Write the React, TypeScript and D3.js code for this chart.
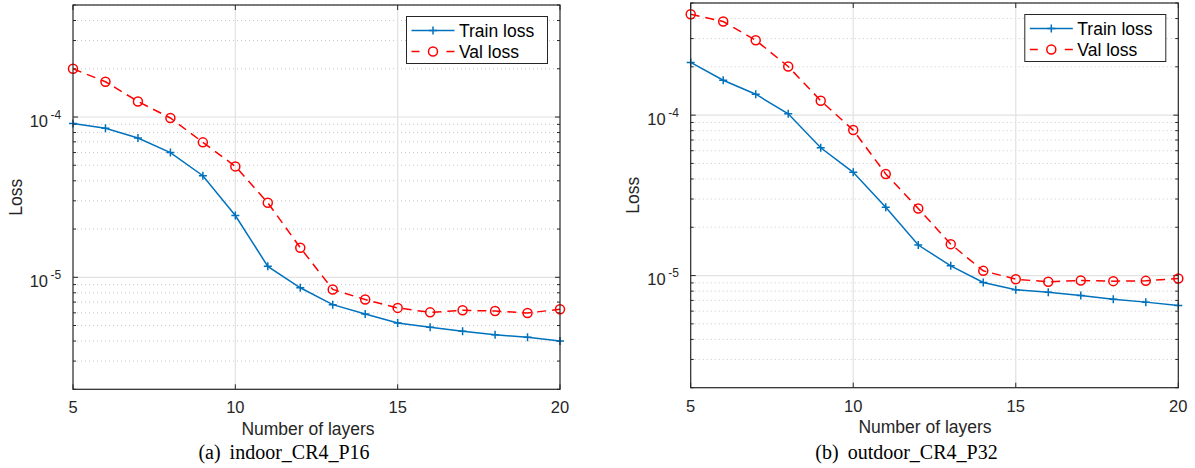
import React from 'react'
import * as d3 from 'd3'

// number of layers on the x axis
const layers = [5, 6, 7, 8, 9, 10, 11, 12, 13, 14, 15, 16, 17, 18, 19, 20]

// (a) indoor_CR4_P16
const indoorTrain = [9.1e-5, 8.5e-5, 7.4e-5, 6.0e-5, 4.3e-5, 2.43e-5, 1.17e-5, 8.6e-6, 6.75e-6, 5.9e-6, 5.19e-6, 4.87e-6, 4.6e-6, 4.38e-6, 4.22e-6, 4.0e-6]
const indoorVal = [2.0e-4, 1.66e-4, 1.25e-4, 9.86e-5, 6.95e-5, 4.92e-5, 2.92e-5, 1.53e-5, 8.4e-6, 7.26e-6, 6.44e-6, 6.04e-6, 6.22e-6, 6.16e-6, 5.99e-6, 6.31e-6]

// (b) outdoor_CR4_P32
const outdoorTrain = [2.13e-4, 1.65e-4, 1.35e-4, 1.02e-4, 6.26e-5, 4.4e-5, 2.67e-5, 1.55e-5, 1.15e-5, 9.05e-6, 8.15e-6, 7.88e-6, 7.51e-6, 7.13e-6, 6.83e-6, 6.51e-6]
const outdoorVal = [4.25e-4, 3.83e-4, 2.93e-4, 2.01e-4, 1.23e-4, 8.07e-5, 4.3e-5, 2.62e-5, 1.57e-5, 1.07e-5, 9.49e-6, 9.14e-6, 9.31e-6, 9.23e-6, 9.27e-6, 9.58e-6]

const xTicks = [5, 10, 15, 20]
const yDomain = [2e-6, 5e-4]
const seriesNames = ['Train loss', 'Val loss']

const AXIS = '#262626'
const BLUE = '#0072bd'
const RED = '#ff0000'
const SANS = '"Liberation Sans", Arial, Helvetica, sans-serif'
const SERIF = '"Liberation Serif", "Times New Roman", serif'

type Frame = { left: number, right: number, top: number, bottom: number }

function Plus({ cx, cy }: { cx: number, cy: number }) {
  return <path d={`M${cx - 4},${cy}H${cx + 4}M${cx},${cy - 4}V${cy + 4}`} stroke={BLUE} strokeWidth={1.5} />
}

function Ring({ cx, cy }: { cx: number, cy: number }) {
  return <circle cx={cx} cy={cy} r={4.5} fill="none" stroke={RED} strokeWidth={1.5} />
}

function Panel({ frame, train, val, tag, name, labelX, captionX }:
  { frame: Frame, train: number[], val: number[], tag: string, name: string, labelX: number, captionX: number }) {
  const x = d3.scaleLinear().domain([5, 20]).range([frame.left, frame.right])
  const y = d3.scaleLog().domain(yDomain).range([frame.bottom, frame.top])

  const line = d3.line<number>()
    .x((_, i) => x(layers[i]))
    .y(d => y(d))

  const allTicks = y.ticks()
  const isMajor = (v: number) => Math.abs(Math.log10(v) - Math.round(Math.log10(v))) < 1e-9
  const major = allTicks.filter(isMajor)
  const minor = allTicks.filter(v => !isMajor(v))

  const legR = frame.right - 12.5
  const legL = legR - 141
  const legT = frame.top + 11.5
  const legB = legT + 47

  return (
    <g>
      {/* grid */}
      {minor.map(v => (
        <line key={'mg' + v} x1={frame.left} x2={frame.right} y1={y(v)} y2={y(v)}
          stroke="#c8c8c8" strokeWidth={1} strokeDasharray="1,3" />
      ))}
      {major.map(v => (
        <line key={'Mg' + v} x1={frame.left} x2={frame.right} y1={y(v)} y2={y(v)}
          stroke="#e2e2e2" strokeWidth={1.2} />
      ))}
      {xTicks.slice(1, -1).map(t => (
        <line key={'xg' + t} x1={x(t)} x2={x(t)} y1={frame.top} y2={frame.bottom}
          stroke="#e2e2e2" strokeWidth={1.2} />
      ))}

      {/* ticks */}
      {xTicks.map(t => (
        <g key={'xt' + t}>
          <line x1={x(t)} x2={x(t)} y1={frame.bottom} y2={frame.bottom - 5} stroke={AXIS} />
          <line x1={x(t)} x2={x(t)} y1={frame.top} y2={frame.top + 5} stroke={AXIS} />
          <text x={x(t)} y={frame.bottom + 24} textAnchor="middle" fontFamily={SANS} fontSize={16.5} fill={AXIS}>{t}</text>
        </g>
      ))}
      {minor.map(v => (
        <g key={'yt' + v}>
          <line x1={frame.left} x2={frame.left + 3} y1={y(v)} y2={y(v)} stroke={AXIS} />
          <line x1={frame.right} x2={frame.right - 3} y1={y(v)} y2={y(v)} stroke={AXIS} />
        </g>
      ))}
      {major.map(v => (
        <g key={'yT' + v}>
          <line x1={frame.left} x2={frame.left + 5} y1={y(v)} y2={y(v)} stroke={AXIS} />
          <line x1={frame.right} x2={frame.right - 5} y1={y(v)} y2={y(v)} stroke={AXIS} />
          <text x={frame.left - 25} y={y(v) + 9.5} textAnchor="end" fontFamily={SANS} fontSize={16.5} fill={AXIS}>10</text>
          <text x={frame.left - 22.5} y={y(v) + 1.5} fontFamily={SANS} fontSize={12} fill={AXIS}>{Math.round(Math.log10(v))}</text>
        </g>
      ))}

      {/* series */}
      <path d={line(train) ?? ''} fill="none" stroke={BLUE} strokeWidth={1.5} />
      {train.map((d, i) => <Plus key={'p' + i} cx={x(layers[i])} cy={y(d)} />)}
      <path d={line(val) ?? ''} fill="none" stroke={RED} strokeWidth={1.5} strokeDasharray="9,6" />
      {val.map((d, i) => <Ring key={'r' + i} cx={x(layers[i])} cy={y(d)} />)}

      {/* box */}
      <rect x={frame.left} y={frame.top} width={frame.right - frame.left} height={frame.bottom - frame.top}
        fill="none" stroke={AXIS} strokeWidth={1.2} />

      {/* legend */}
      <rect x={legL} y={legT} width={legR - legL} height={legB - legT} fill="#fff" stroke={AXIS} strokeWidth={1} />
      <line x1={legL + 5} x2={legL + 48} y1={legT + 14} y2={legT + 14} stroke={BLUE} strokeWidth={1.5} />
      <Plus cx={legL + 26.5} cy={legT + 14} />
      <line x1={legL + 5} x2={legL + 13} y1={legT + 35} y2={legT + 35} stroke={RED} strokeWidth={1.5} />
      <line x1={legL + 40} x2={legL + 48} y1={legT + 35} y2={legT + 35} stroke={RED} strokeWidth={1.5} />
      <Ring cx={legL + 26.5} cy={legT + 35} />
      <text x={legL + 52.5} y={legT + 20} fontFamily={SANS} fontSize={17.5} fill="#000">{seriesNames[0]}</text>
      <text x={legL + 52.5} y={legT + 41} fontFamily={SANS} fontSize={17.5} fill="#000">{seriesNames[1]}</text>

      {/* labels */}
      <text x={labelX} y={frame.bottom + 45.5} textAnchor="middle" fontFamily={SANS} fontSize={17.5} fill={AXIS}>Number of layers</text>
      <text transform={`translate(${frame.left - 51.5},${(frame.top + frame.bottom) / 2}) rotate(-90)`}
        textAnchor="middle" fontFamily={SANS} fontSize={17.5} fill={AXIS}>Loss</text>
      <text x={captionX} y={458.5} textAnchor="middle" fontFamily={SERIF} fontSize={20} fill="#000">
        <tspan>{tag}</tspan><tspan dx={9}>{name}</tspan>
      </text>
    </g>
  )
}

export default function App() {
  return (
    <div style={{ position: 'absolute', left: 0, top: 0 }}>
      <svg width={1195} height={468} style={{ display: 'block', background: '#fff' }}>
        <Panel frame={{ left: 73, right: 560, top: 5, bottom: 389.3 }} train={indoorTrain} val={indoorVal}
          tag="(a)" name="indoor_CR4_P16" labelX={308} captionX={284} />
        <Panel frame={{ left: 690.7, right: 1178.3, top: 3, bottom: 387.7 }} train={outdoorTrain} val={outdoorVal}
          tag="(b)" name="outdoor_CR4_P32" labelX={925} captionX={906.5} />
      </svg>
    </div>
  )
}
